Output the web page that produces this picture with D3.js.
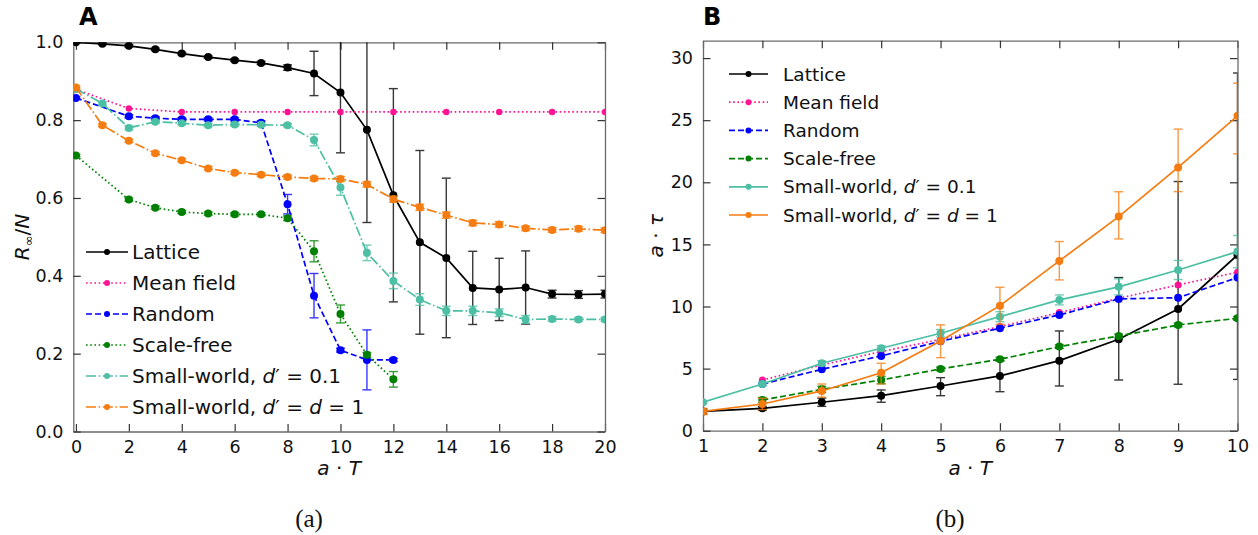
<!DOCTYPE html>
<html>
<head>
<meta charset="utf-8">
<script src="https://cdn.jsdelivr.net/npm/d3@7"></script>
<style>
  body { margin: 0; background: #fff; }
  svg { display: block; font-family: "DejaVu Sans", sans-serif; }
</style>
</head>
<body>
<svg id="chart" width="1258" height="535"></svg>
<script>
// ---------------- Panel A: final epidemic size R_inf/N vs a*T ----------------
const xA_full = [0, 1, 2, 3, 4, 5, 6, 7, 8, 9, 10, 11, 12, 13, 14, 15, 16, 17, 18, 19, 20];
const xA_even = [0, 2, 4, 6, 8, 10, 12, 14, 16, 18, 20];
const xA_short = [0, 2, 3, 4, 5, 6, 7, 8, 9, 10, 11, 12];

const latticeA = [1.000, 0.996, 0.991, 0.982, 0.971, 0.962, 0.954, 0.947, 0.935, 0.920, 0.871,
                  0.775, 0.607, 0.486, 0.446, 0.369, 0.365, 0.370, 0.353, 0.352, 0.353];
const latticeAErr = [0.002, 0.002, 0.003, 0.003, 0.003, 0.003, 0.003, 0.004, 0.007, 0.057, 0.155,
                     0.238, 0.274, 0.236, 0.205, 0.094, 0.080, 0.094, 0.010, 0.010, 0.010];

const meanFieldA = [0.879, 0.830, 0.821, 0.821, 0.821, 0.821, 0.821, 0.821, 0.821, 0.821, 0.821];

const randomA = [0.857, 0.810, 0.805, 0.802, 0.802, 0.802, 0.793, 0.584, 0.349, 0.209, 0.184, 0.184];
const randomAErr = [0.003, 0.004, 0.004, 0.004, 0.004, 0.004, 0.005, 0.025, 0.057, 0.005, 0.077, 0.004];

const scaleFreeA = [0.709, 0.596, 0.575, 0.564, 0.560, 0.558, 0.558, 0.548, 0.463, 0.302, 0.197, 0.134];
const scaleFreeAErr = [0.003, 0.004, 0.004, 0.004, 0.004, 0.004, 0.004, 0.006, 0.027, 0.023, 0.006, 0.020];

const smallWorld01A = [0.880, 0.843, 0.780, 0.796, 0.792, 0.787, 0.789, 0.788, 0.787, 0.749, 0.627,
                       0.459, 0.387, 0.339, 0.310, 0.310, 0.305, 0.288, 0.289, 0.288, 0.288];
const smallWorld01AErr = [0.003, 0.004, 0.005, 0.004, 0.004, 0.004, 0.004, 0.004, 0.004, 0.015, 0.020,
                          0.020, 0.020, 0.015, 0.012, 0.012, 0.010, 0.010, 0.006, 0.005, 0.005];

const smallWorld1A = [0.884, 0.787, 0.747, 0.715, 0.697, 0.676, 0.665, 0.660, 0.654, 0.650, 0.649,
                      0.635, 0.597, 0.576, 0.556, 0.536, 0.532, 0.522, 0.518, 0.521, 0.517];
const smallWorld1AErr = [0.004, 0.004, 0.004, 0.004, 0.004, 0.004, 0.004, 0.004, 0.005, 0.005, 0.006,
                         0.007, 0.008, 0.008, 0.008, 0.007, 0.007, 0.006, 0.006, 0.006, 0.006];

const xTicksA = [0, 2, 4, 6, 8, 10, 12, 14, 16, 18, 20];
const yTicksA = [0.0, 0.2, 0.4, 0.6, 0.8, 1.0];

// ---------------- Panel B: epidemic duration a*tau vs a*T ----------------
const xB_full = [1, 2, 3, 4, 5, 6, 7, 8, 9, 10];
const xB_from2 = [2, 3, 4, 5, 6, 7, 8, 9, 10];

const latticeB = [1.55, 1.80, 2.29, 2.82, 3.60, 4.41, 5.64, 7.36, 9.80, 14.15];
const latticeBDown = [0.20, 0.15, 0.33, 0.53, 0.78, 1.27, 2.04, 3.28, 6.06, 10.02];
const latticeBUp = [0.20, 0.15, 0.33, 0.46, 0.67, 1.23, 2.39, 4.97, 10.26, 14.65];

const meanFieldB = [4.08, 5.29, 6.37, 7.35, 8.38, 9.51, 10.66, 11.74, 12.76];

const randomB = [3.76, 4.94, 6.02, 7.20, 8.25, 9.32, 10.61, 10.71, 12.33];

const scaleFreeB = [2.47, 3.33, 4.08, 4.97, 5.75, 6.77, 7.63, 8.51, 9.05];
const scaleFreeBErr = [0.20, 0.25, 0.30, 0.15, 0.15, 0.15, 0.15, 0.15, 0.15];

const smallWorld01B = [2.29, 3.76, 5.43, 6.64, 7.85, 9.18, 10.53, 11.58, 12.94, 14.42];
const smallWorld01BErr = [0.10, 0.15, 0.20, 0.20, 0.30, 0.40, 0.40, 0.65, 0.77, 1.30];

const smallWorld1B = [1.55, 2.15, 3.20, 4.67, 7.22, 10.07, 13.67, 17.24, 21.20, 25.35];
const smallWorld1BDown = [0.25, 0.45, 0.50, 0.91, 1.34, 1.50, 1.53, 1.80, 1.95, 3.06];
const smallWorld1BUp = [0.25, 0.46, 0.56, 0.76, 1.30, 1.48, 1.56, 2.00, 3.08, 2.63];

const xTicksB = [1, 2, 3, 4, 5, 6, 7, 8, 9, 10];
const yTicksB = [0, 5, 10, 15, 20, 25, 30];

// ---------------- styling ----------------
const C = {
  lattice: "#000000",
  mean: "#ff1493",
  random: "#0000ff",
  scale: "#008000",
  teal: "#4cbfa4",
  orange: "#f57c10"
};
const DASH = {
  solid: null,
  dotted: "1.6,2.6",
  dashed: "6,3",
  dashdot: "10,2.6,1.6,2.6"
};

const legendLabels = [
  [{t: "Lattice"}],
  [{t: "Mean field"}],
  [{t: "Random"}],
  [{t: "Scale-free"}],
  [{t: "Small-world, "}, {t: "d", i: true}, {t: "\u2032 = 0.1"}],
  [{t: "Small-world, "}, {t: "d", i: true}, {t: "\u2032 = "}, {t: "d", i: true}, {t: " = 1"}]
];

const svg = d3.select("#chart");

function sym(err) { return {down: err, up: err}; }

function drawPanel(cfg, id) {
  const g = svg.append("g");
  const x = d3.scaleLinear().domain(cfg.xDomain).range([cfg.left, cfg.right]);
  const y = d3.scaleLinear().domain(cfg.yDomain).range([cfg.bottom, cfg.top]);

  svg.append("clipPath").attr("id", "clip" + id)
    .append("rect")
    .attr("x", cfg.left).attr("y", cfg.top)
    .attr("width", cfg.right - cfg.left).attr("height", cfg.bottom - cfg.top);

  const tick = 7.5;
  const axes = [
    g.append("g").attr("transform", `translate(0,${cfg.bottom})`)
      .call(d3.axisBottom(x).tickValues(cfg.xTicks).tickSize(-tick).tickSizeOuter(0).tickPadding(9)
        .tickFormat(d3.format("d"))),
    g.append("g").attr("transform", `translate(0,${cfg.top})`)
      .call(d3.axisTop(x).tickValues(cfg.xTicks).tickSize(-tick).tickSizeOuter(0).tickFormat("")),
    g.append("g").attr("transform", `translate(${cfg.left},0)`)
      .call(d3.axisLeft(y).tickValues(cfg.yTicks).tickSize(-tick).tickSizeOuter(0).tickPadding(10)
        .tickFormat(d3.format(cfg.yFmt))),
    g.append("g").attr("transform", `translate(${cfg.right},0)`)
      .call(d3.axisRight(y).tickValues(cfg.yTicks).tickSize(-tick).tickSizeOuter(0).tickFormat(""))
  ];
  axes.forEach(a => {
    a.select(".domain").attr("stroke", "#6a6a6a").attr("stroke-width", 1.3);
    a.selectAll(".tick line").attr("stroke", "#333").attr("stroke-width", 1.2);
    a.selectAll(".tick text").attr("font-size", 17.5).attr("fill", "#111")
      .attr("font-family", "DejaVu Sans, sans-serif");
  });

  const plot = g.append("g").attr("clip-path", `url(#clip${id})`);

  cfg.series.forEach(s => {
    const pts = s.x.map((xv, i) => ({
      x: xv, y: s.y[i],
      down: s.down ? s.down[i] : 0,
      up: s.up ? s.up[i] : 0
    }));
    const sg = plot.append("g");
    // error bars
    const eb = sg.append("g").attr("stroke", s.color).attr("stroke-width", 1.4).attr("opacity", 0.78);
    pts.filter(p => p.down > 0 || p.up > 0).forEach(p => {
      const cx = x(p.x), y0 = y(p.y - p.down), y1 = y(p.y + p.up);
      eb.append("line").attr("x1", cx).attr("x2", cx).attr("y1", y0).attr("y2", y1);
      eb.append("line").attr("x1", cx - 4.5).attr("x2", cx + 4.5).attr("y1", y0).attr("y2", y0);
      eb.append("line").attr("x1", cx - 4.5).attr("x2", cx + 4.5).attr("y1", y1).attr("y2", y1);
    });
    // line
    sg.append("path")
      .datum(pts)
      .attr("fill", "none")
      .attr("stroke", s.color)
      .attr("stroke-width", 1.7)
      .attr("stroke-dasharray", s.dash)
      .attr("d", d3.line().x(d => x(d.x)).y(d => y(d.y)));
    // markers
    sg.selectAll("circle").data(pts).join("circle")
      .attr("cx", d => x(d.x)).attr("cy", d => y(d.y))
      .attr("r", s.r).attr("fill", s.color);
  });

  // legend
  const lg = g.append("g");
  cfg.series.forEach((s, i) => {
    const yy = cfg.legend.y + i * cfg.legend.dy;
    lg.append("line")
      .attr("x1", cfg.legend.x1).attr("x2", cfg.legend.x2)
      .attr("y1", yy).attr("y2", yy)
      .attr("stroke", s.color).attr("stroke-width", 1.7)
      .attr("stroke-dasharray", s.dash);
    lg.append("circle")
      .attr("cx", (cfg.legend.x1 + cfg.legend.x2) / 2).attr("cy", yy)
      .attr("r", 3).attr("fill", s.color);
    const t = lg.append("text")
      .attr("x", cfg.legend.tx).attr("y", yy).attr("dy", "0.36em")
      .attr("font-size", cfg.legend.fs).attr("fill", "#111");
    legendLabels[i].forEach(part => {
      t.append("tspan").text(part.t).attr("font-style", part.i ? "italic" : null);
    });
  });

  // panel letter
  g.append("text").attr("x", cfg.letterX).attr("y", 25)
    .attr("font-size", 24).attr("font-weight", "bold").attr("fill", "#000").text(cfg.letter);

  // x label: a · T
  const xl = g.append("text")
    .attr("x", (cfg.left + cfg.right) / 2).attr("y", 475)
    .attr("text-anchor", "middle").attr("font-size", 20).attr("fill", "#111");
  xl.append("tspan").attr("font-style", "italic").text("a");
  xl.append("tspan").text(" \u00b7 ");
  xl.append("tspan").attr("font-style", "italic").text("T");

  // y label
  const cy = (cfg.top + cfg.bottom) / 2;
  const yl = g.append("text")
    .attr("transform", `translate(${cfg.yLabelX},${cy}) rotate(-90)`)
    .attr("text-anchor", "middle").attr("font-size", 20).attr("fill", "#111");
  cfg.yLabel.forEach(part => {
    const ts = yl.append("tspan").text(part.t);
    if (part.i) ts.attr("font-style", "italic");
    if (part.sub) ts.attr("font-size", 13).attr("dy", 4);
    if (part.back) ts.attr("dy", -4);
  });

  // caption, set in a serif face
  g.append("text").attr("x", cfg.captionX).attr("y", 527)
    .attr("text-anchor", "middle").attr("font-size", 25)
    .style("font-family", "'Liberation Serif', 'DejaVu Serif', serif").attr("fill", "#111")
    .text(cfg.caption);
}

drawPanel({
  left: 73.3, right: 605, top: 42.3, bottom: 431.5,
  xDomain: [-0.1, 20], yDomain: [0, 1],
  xTicks: xTicksA, yTicks: yTicksA, yFmt: ".1f",
  letter: "A", letterX: 79, caption: "(a)", captionX: 309, yLabelX: 29,
  yLabel: [{t: "R", i: true}, {t: "\u221e", sub: true}, {t: "/", back: true}, {t: "N", i: true}],
  legend: {y: 252, dy: 31, x1: 86, x2: 128, tx: 132, fs: 20},
  series: [
    {x: xA_full, y: latticeA, ...sym(latticeAErr), color: C.lattice, dash: DASH.solid, r: 4},
    {x: xA_even, y: meanFieldA, color: C.mean, dash: DASH.dotted, r: 3.2},
    {x: xA_short, y: randomA, ...sym(randomAErr), color: C.random, dash: DASH.dashed, r: 4},
    {x: xA_short, y: scaleFreeA, ...sym(scaleFreeAErr), color: C.scale, dash: DASH.dotted, r: 4},
    {x: xA_full, y: smallWorld01A, ...sym(smallWorld01AErr), color: C.teal, dash: DASH.dashdot, r: 4},
    {x: xA_full, y: smallWorld1A, ...sym(smallWorld1AErr), color: C.orange, dash: DASH.dashdot, r: 4}
  ]
}, "A");

drawPanel({
  left: 703, right: 1237.5, top: 40.7, bottom: 430.7,
  xDomain: [1, 10], yDomain: [0, 31.4],
  xTicks: xTicksB, yTicks: yTicksB, yFmt: "d",
  letter: "B", letterX: 703, caption: "(b)", captionX: 950, yLabelX: 663,
  yLabel: [{t: "a", i: true}, {t: " \u00b7 "}, {t: "\u03c4", i: true}],
  legend: {y: 74, dy: 28.2, x1: 729, x2: 768, tx: 783, fs: 18.5},
  series: [
    {x: xB_full, y: latticeB, down: latticeBDown, up: latticeBUp, color: C.lattice, dash: DASH.solid, r: 4},
    {x: xB_from2, y: meanFieldB, color: C.mean, dash: DASH.dotted, r: 3.5},
    {x: xB_from2, y: randomB, color: C.random, dash: DASH.dashed, r: 4},
    {x: xB_from2, y: scaleFreeB, ...sym(scaleFreeBErr), color: C.scale, dash: DASH.dashed, r: 4},
    {x: xB_full, y: smallWorld01B, ...sym(smallWorld01BErr), color: C.teal, dash: DASH.solid, r: 4},
    {x: xB_full, y: smallWorld1B, down: smallWorld1BDown, up: smallWorld1BUp, color: C.orange, dash: DASH.solid, r: 4}
  ]
}, "B");
</script>
</body>
</html>
